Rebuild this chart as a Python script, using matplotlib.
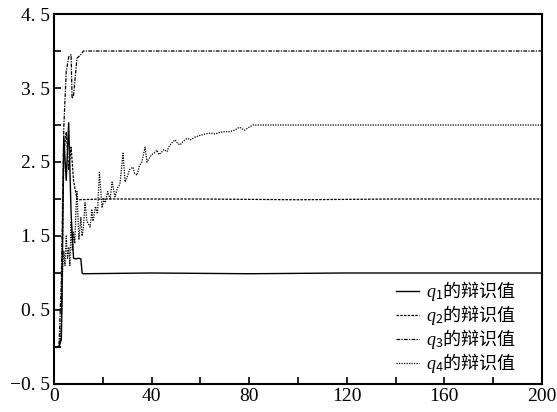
import matplotlib
matplotlib.use("Agg")
import matplotlib.pyplot as plt

plt.rcParams['font.family'] = ['Liberation Serif', 'Noto Sans CJK SC']
plt.rcParams['mathtext.fontset'] = 'custom'
plt.rcParams['mathtext.rm'] = 'Noto Sans CJK SC'
plt.rcParams['mathtext.it'] = 'Liberation Serif:italic'
plt.rcParams['mathtext.bf'] = 'Liberation Serif:bold'

# identification results of q1..q4 against iteration step
t1 = [0, 2, 3, 4, 5, 6, 7, 8, 9, 10, 11, 11.5, 12, 40, 80, 120, 160, 200]
q1 = [0, 0, 0.1, 2.85, 2.25, 3.03, 1.8, 1.2, 1.19, 1.2, 1.19, 1.0, 0.99, 1.0, 0.99, 1.0, 1.0, 1.0]

t2 = [0, 2, 3, 4, 5, 6, 7, 8, 8.8, 9.5, 10, 20, 60, 100, 140, 200]
q2 = [0, 0, 0.15, 2.6, 2.9, 2.4, 2.7, 2.25, 2.1, 2.0, 1.99, 2.0, 2.0, 1.99, 2.0, 2.0]

t3 = [0, 2, 3, 4, 5, 6, 7, 7.4, 8, 9.4, 10, 11.5, 12, 60, 120, 200]
q3 = [0, 0, 0.9, 2.97, 3.72, 3.92, 3.95, 3.36, 3.4, 3.9, 3.92, 3.97, 4.0, 4.0, 4.0, 4.0]

t4 = [0, 2, 3, 3.5, 4, 4.5, 5, 5.5, 6, 6.5, 7, 7.5, 8, 8.5, 9, 9.4, 10.2, 11, 11.5,
      12, 12.7, 13.5, 14.8, 15.5, 16, 17, 17.8, 18.6, 19.7, 20.5, 21, 22, 23,
      23.8, 25, 26, 27, 28.3, 29.1, 30, 31, 32.4, 33, 34, 35, 36, 37.3, 38.1,
      39, 40, 41, 42.2, 43, 44, 45, 46.3, 47, 48, 49.6, 50.5, 51.6, 53, 54.5,
      56, 58, 60, 62, 64, 66, 68, 70, 72, 74, 76, 78, 80, 81.5, 85, 120, 160, 200]
q4 = [0, 0, 0.3, 1.0, 1.3, 1.1, 1.5, 1.2, 1.35, 1.1, 1.7, 1.3, 1.55, 1.4, 1.85,
      2.1, 1.45, 1.75, 1.5, 1.6, 1.95, 1.7, 1.62, 1.85, 1.7, 1.9, 1.8, 2.36,
      1.88, 2.0, 1.95, 2.1, 2.0, 2.23, 2.03, 2.15, 2.2, 2.62, 2.23, 2.3, 2.4,
      2.43, 2.35, 2.32, 2.45, 2.5, 2.70, 2.5, 2.55, 2.6, 2.62, 2.66, 2.6, 2.63,
      2.67, 2.64, 2.7, 2.75, 2.80, 2.76, 2.73, 2.78, 2.82, 2.80, 2.84, 2.86,
      2.88, 2.89, 2.88, 2.9, 2.91, 2.91, 2.93, 2.97, 2.93, 2.97, 3.0, 3.0, 3.0,
      3.0, 3.0]

labels = [r'$q_{1}\mathrm{的辩识值}$', r'$q_{2}\mathrm{的辩识值}$',
          r'$q_{3}\mathrm{的辩识值}$', r'$q_{4}\mathrm{的辩识值}$']

xticks = [0, 20, 40, 60, 80, 100, 120, 140, 160, 180, 200]
xlabels = ['0', '', '40', '', '80', '', '120', '', '160', '', '200']
yticks = [-0.5, 0, 0.5, 1, 1.5, 2, 2.5, 3, 3.5, 4, 4.5]
ylabels = ['\u22120. 5', '', '0. 5', '', '1. 5', '', '2. 5', '', '3. 5', '', '4. 5']

fig = plt.figure(figsize=(5.57, 4.12), dpi=100)
ax = fig.add_axes([0.097, 0.068, 0.876, 0.898])

ax.plot(t1, q1, color='black', lw=1.0, ls='-', label=labels[0])
ax.plot(t2, q2, color='black', lw=0.9, ls=(0, (2, 1)), label=labels[1])
ax.plot(t3, q3, color='black', lw=0.9, ls=(0, (3, 1, 1, 1)), label=labels[2])
ax.plot(t4, q4, color='black', lw=0.9, ls=(0, (1, 1)), label=labels[3])

ax.set_xlim(0, 200)
ax.set_ylim(-0.5, 4.5)
ax.set_xticks(xticks)
ax.set_xticklabels(xlabels)
ax.set_yticks(yticks)
ax.set_yticklabels(ylabels)
ax.tick_params(direction='in', length=5, width=1.2, labelsize=14, pad=3)
for sp in ax.spines.values():
    sp.set_linewidth(1.5)

leg = ax.legend(loc='lower right', bbox_to_anchor=(0.955, 0.015), frameon=False,
                fontsize=13, handlelength=1.3, handletextpad=0.4,
                labelspacing=0.0, borderaxespad=0.0, borderpad=0.2)

fig.savefig('out.png', dpi=100)
